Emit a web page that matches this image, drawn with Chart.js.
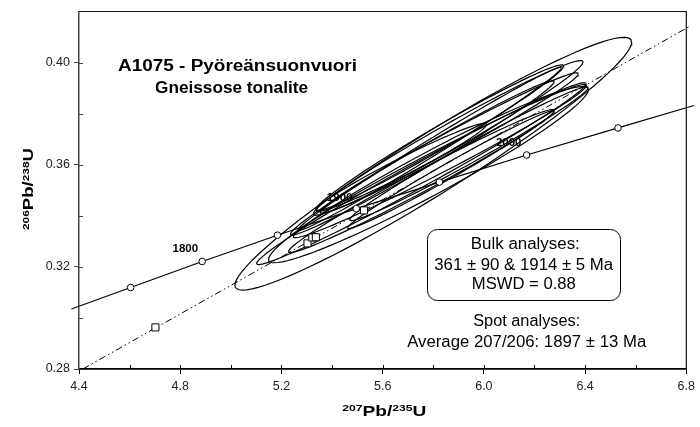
<!DOCTYPE html>
<html>
<head>
<meta charset="utf-8">
<script src="https://cdn.jsdelivr.net/npm/chart.js@4.4.0/dist/chart.umd.min.js"></script>
<style>
html, body { margin: 0; padding: 0; background: #fff; }
</style>
</head>
<body>
<canvas id="c" width="700" height="427"></canvas>
<script>
// concordia curve, age marks every 50 Ma (ends are just line ends)
const concAges = [null, 1750, 1800, 1850, 1900, 1950, 2000, 2050, null];
const conc207 = [4.37, 4.604, 4.887, 5.184, 5.496, 5.824, 6.169, 6.530, 6.83];
const conc206 = [0.3035, 0.3119, 0.3221, 0.3324, 0.3428, 0.3532, 0.3638, 0.3744, 0.3832];

// discordia 361 +- 90 & 1914 +- 5 Ma
const disc207 = [4.415, 6.81];
const disc206 = [0.2800, 0.4140];

// spot analyses (squares)
const spot207 = [4.702, 5.303, 5.322, 5.336, 5.526];
const spot206 = [0.2963, 0.3292, 0.3315, 0.3316, 0.3421];

// bulk analyses, error ellipses
const ell207 = [5.800, 5.781, 5.753, 5.753, 5.826, 5.859, 5.863, 5.941, 5.870, 5.757, 5.674, 5.826, 5.786];
const ell207err = [0.784, 0.632, 0.651, 0.525, 0.489, 0.533, 0.510, 0.471, 0.408, 0.521, 0.337, 0.579, 0.520];
const ell206 = [0.3604, 0.3561, 0.3565, 0.3536, 0.3706, 0.3705, 0.3685, 0.3643, 0.3581, 0.3627, 0.3590, 0.3614, 0.3662];
const ell206err = [0.0495, 0.0345, 0.0356, 0.0280, 0.0285, 0.0303, 0.0275, 0.0262, 0.0231, 0.0302, 0.0172, 0.0300, 0.0319];
const ellRho = [0.961, 0.963, 0.988, 0.986, 0.984, 0.982, 0.986, 0.987, 0.989, 0.988, 0.975, 0.986, 0.993];

// age labels on the concordia
const ageLabels = ['1800', '1900', '2000'];
const ageLabel207 = [4.82, 5.430, 6.098];
const ageLabel206 = [0.3270, 0.3472, 0.3685];

const FONT = '"Liberation Sans", Arial, sans-serif';

function ellipsePoints(i) {
    const pts = [];
    const s = Math.sqrt(1 - ellRho[i] * ellRho[i]);
    for (let k = 0; k <= 90; k++) {
        const t = k / 90 * Math.PI * 2;
        pts.push({
            x: ell207[i] + ell207err[i] * Math.cos(t),
            y: ell206[i] + ell206err[i] * (ellRho[i] * Math.cos(t) + s * Math.sin(t))
        });
    }
    return pts;
}

const datasets = [];
datasets.push({
    data: spot207.map((x, i) => ({ x, y: spot206[i] })),
    pointStyle: 'rect', pointRadius: 5, pointBorderWidth: 1,
    pointBorderColor: '#000', pointBackgroundColor: '#fff',
    showLine: false, order: 0
});
datasets.push({
    data: conc207.map((x, i) => ({ x, y: conc206[i] })),
    showLine: true, borderColor: '#000', borderWidth: 1.2, tension: 0,
    pointRadius: concAges.map(a => a ? 3.3 : 0), pointBorderWidth: 1,
    pointBorderColor: '#000', pointBackgroundColor: '#fff',
    clip: false, order: 1
});
datasets.push({
    data: disc207.map((x, i) => ({ x, y: disc206[i] })),
    showLine: true, borderColor: '#000', borderWidth: 1, borderDash: [7, 3, 1.5, 3, 1.5, 3],
    pointRadius: 0, clip: false, order: 2
});
ell207.forEach((_, i) => {
    datasets.push({
        data: ellipsePoints(i),
        showLine: true, borderColor: '#000', borderWidth: 1.2, tension: 0,
        pointRadius: 0, fill: false, order: 3
    });
});

function fitText(ctx, str, cx, y, font, w) {
    ctx.save();
    ctx.font = font;
    const m = ctx.measureText(str).width;
    ctx.translate(cx, y);
    ctx.scale(w ? w / m : 1, 1);
    ctx.textAlign = 'center';
    ctx.textBaseline = 'alphabetic';
    ctx.fillText(str, 0, 0);
    ctx.restore();
}

function supLabel(ctx, parts, cx, cy, rot, w) {
    const big = 'bold 15px ' + FONT, small = 'bold 9.5px ' + FONT;
    ctx.save();
    ctx.translate(cx, cy);
    if (rot) ctx.rotate(-Math.PI / 2);
    let total = 0;
    parts.forEach(([t, sup]) => { ctx.font = sup ? small : big; total += ctx.measureText(t).width; });
    ctx.scale(w / total, 1);
    ctx.textAlign = 'left';
    ctx.textBaseline = 'alphabetic';
    let x = -total / 2;
    parts.forEach(([t, sup]) => {
        ctx.font = sup ? small : big;
        ctx.fillText(t, x, sup ? -4.5 : 0);
        x += ctx.measureText(t).width;
    });
    ctx.restore();
}

const decor = {
    id: 'decor',
    afterDraw(chart) {
        const ctx = chart.ctx, a = chart.chartArea;
        const xs = chart.scales.x, ys = chart.scales.y;
        ctx.save();
        // frame top / right
        ctx.strokeStyle = '#111';
        ctx.lineWidth = 1.2;
        ctx.beginPath();
        ctx.moveTo(a.left, a.top);
        ctx.lineTo(a.right, a.top);
        ctx.lineTo(a.right, a.bottom);
        ctx.stroke();
        // inner ticks
        ctx.lineWidth = 1;
        ctx.strokeStyle = '#000';
        xs.ticks.forEach(t => {
            if (t.value <= xs.min || t.value >= xs.max) return;
            const p = Math.round(xs.getPixelForValue(t.value)) + 0.5;
            ctx.beginPath(); ctx.moveTo(p, a.bottom); ctx.lineTo(p, a.bottom - 4); ctx.stroke();
        });
        ctx.strokeStyle = '#444';
        ys.ticks.forEach(t => {
            if (t.value <= ys.min || t.value >= ys.max) return;
            const p = Math.round(ys.getPixelForValue(t.value)) + 0.5;
            ctx.beginPath(); ctx.moveTo(a.left, p); ctx.lineTo(a.left + 4, p); ctx.stroke();
        });

        ctx.fillStyle = '#000';
        // age labels
        ageLabels.forEach((s, i) => {
            ctx.font = 'bold 11.5px ' + FONT;
            ctx.textAlign = 'center';
            ctx.textBaseline = 'middle';
            ctx.fillText(s, xs.getPixelForValue(ageLabel207[i]), ys.getPixelForValue(ageLabel206[i]));
        });

        // title
        fitText(ctx, 'A1075 - Pyöreänsuonvuori', 237.5, 71, 'bold 16px ' + FONT, 239);
        fitText(ctx, 'Gneissose tonalite', 231.5, 93, 'bold 16px ' + FONT, 153);

        // bulk box
        ctx.strokeStyle = '#000';
        ctx.lineWidth = 1;
        ctx.beginPath();
        ctx.roundRect(427.5, 229.5, 193, 71, 10);
        ctx.stroke();
        const f = '16px ' + FONT;
        fitText(ctx, 'Bulk analyses:', 525.3, 249, f, 109);
        fitText(ctx, '361 ± 90 & 1914 ± 5 Ma', 523.7, 269.5, f, 179);
        fitText(ctx, 'MSWD = 0.88', 523.8, 289, f, 104);
        fitText(ctx, 'Spot analyses:', 526.7, 326, f, 107);
        fitText(ctx, 'Average 207/206: 1897 ± 13 Ma', 526.7, 346.7, f, 239);

        // axis titles
        supLabel(ctx, [['207', true], ['Pb/', false], ['235', true], ['U', false]], 384.3, 415.7, false, 84);
        supLabel(ctx, [['206', true], ['Pb/', false], ['238', true], ['U', false]], 33, 189, true, 82);
        ctx.restore();
    }
};

const isMajorX = v => Math.round(v * 10) % 4 === 0;
const isMajorY = v => Math.round(v * 100) % 4 === 0;

new Chart(document.getElementById('c'), {
    type: 'scatter',
    data: { datasets },
    options: {
        responsive: false,
        animation: false,
        devicePixelRatio: 1,
        layout: { padding: { left: 0, top: 7, right: 10, bottom: 0 } },
        plugins: { legend: { display: false }, tooltip: { enabled: false } },
        scales: {
            x: {
                type: 'linear', min: 4.4, max: 6.8,
                afterFit: s => { s.height = 58; },
                ticks: {
                    stepSize: 0.2, autoSkip: false, maxRotation: 0, padding: 5,
                    color: '#222', font: { family: FONT, size: 12.5 },
                    callback: v => isMajorX(v) ? v.toFixed(1) : ''
                },
                grid: {
                    drawOnChartArea: false, tickLength: 5, tickWidth: 1,
                    tickColor: c => isMajorX(c.tick.value) ? '#000' : 'rgba(0,0,0,0)'
                },
                border: { color: '#000', width: 1.8 }
            },
            y: {
                type: 'linear', min: 0.28, max: 0.42,
                afterFit: s => { s.width = 79; },
                ticks: {
                    stepSize: 0.02, autoSkip: false, padding: 4,
                    color: '#222', font: { family: FONT, size: 12.5 },
                    callback: v => isMajorY(v) ? v.toFixed(2) : ''
                },
                grid: {
                    drawOnChartArea: false, tickLength: 5, tickWidth: 1,
                    tickColor: c => isMajorY(c.tick.value) ? '#444' : 'rgba(0,0,0,0)'
                },
                border: { color: '#444', width: 1.5 }
            }
        }
    },
    plugins: [decor]
});
</script>
</body>
</html>
